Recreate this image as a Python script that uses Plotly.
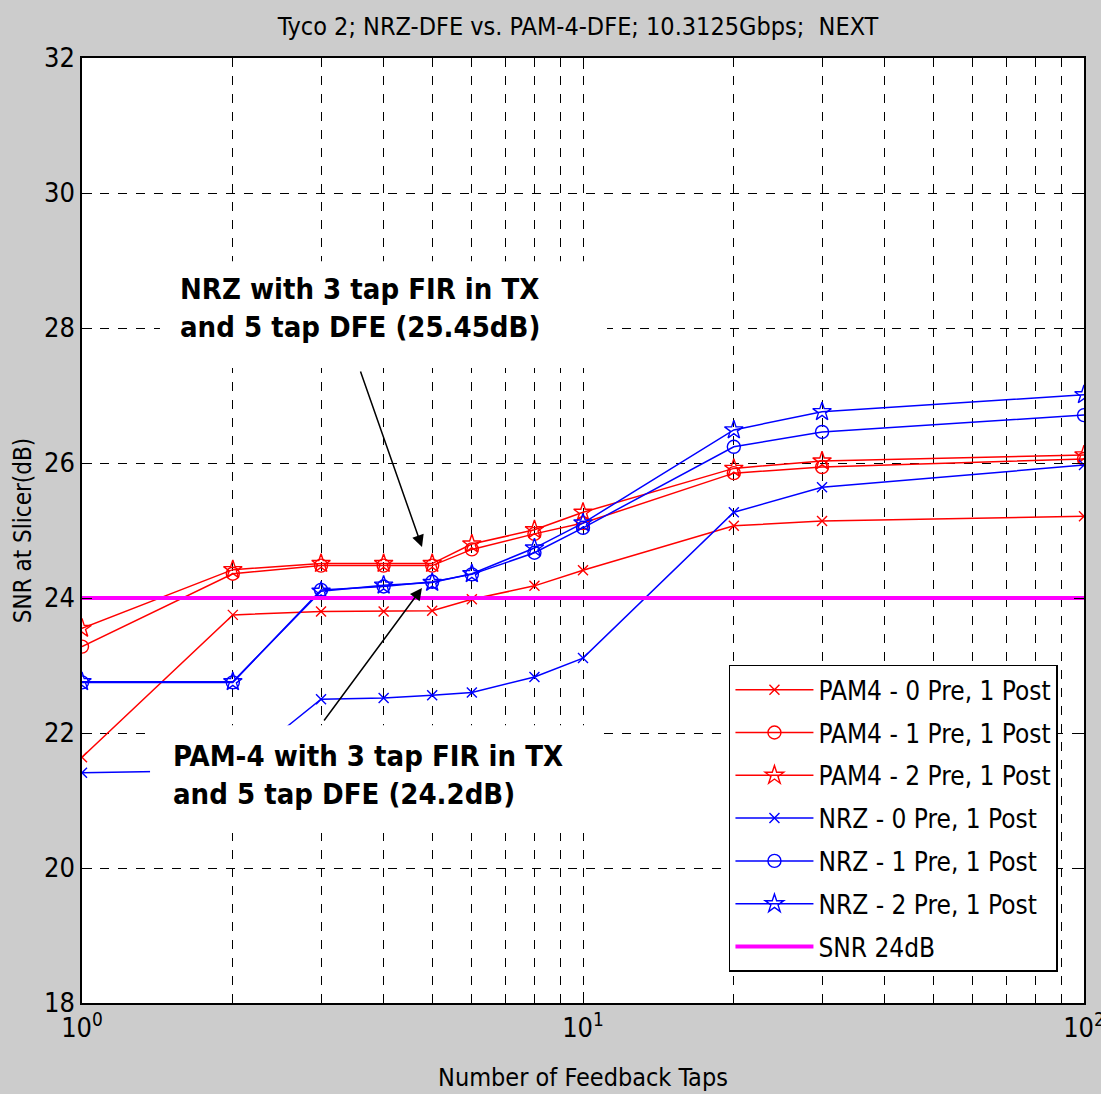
import plotly.graph_objects as go

taps = [1, 2, 3, 4, 5, 6, 8, 10, 20, 30, 100]

pam4_0pre = [21.64, 23.75, 23.80, 23.80, 23.81, 23.98, 24.18, 24.41, 25.07, 25.14, 25.21]
pam4_1pre = [23.28, 24.36, 24.48, 24.48, 24.48, 24.72, 24.95, 25.11, 25.85, 25.94, 26.06]
pam4_2pre = [23.55, 24.42, 24.51, 24.51, 24.51, 24.80, 25.01, 25.27, 25.92, 26.03, 26.12]
nrz_0pre = [21.41, 21.45, 22.50, 22.52, 22.56, 22.60, 22.83, 23.11, 25.27, 25.64, 25.97]
nrz_1pre = [22.75, 22.75, 24.12, 24.17, 24.24, 24.35, 24.67, 25.04, 26.24, 26.46, 26.71]
nrz_2pre = [22.76, 22.76, 24.10, 24.19, 24.23, 24.36, 24.74, 25.11, 26.49, 26.76, 27.01]
snr_line = [24, 24]
snr_x = [1, 100]

names = ["PAM4 - 0 Pre, 1 Post", "PAM4 - 1 Pre, 1 Post", "PAM4 - 2 Pre, 1 Post",
         "NRZ - 0 Pre, 1 Post", "NRZ - 1 Pre, 1 Post", "NRZ - 2 Pre, 1 Post", "SNR 24dB"]

title_text = "Tyco 2; NRZ-DFE vs. PAM-4-DFE; 10.3125Gbps;  NEXT"
xlabel = "Number of Feedback Taps"
ylabel = "SNR at Slicer(dB)"
note_nrz = "NRZ with 3 tap FIR in TX<br>and 5 tap DFE (25.45dB)"
note_pam = "PAM-4 with 3 tap FIR in TX<br>and 5 tap DFE (24.2dB)"

FONT = "DejaVu Sans Condensed, Liberation Sans Narrow, sans-serif"
RED = "#ff0000"
BLUE = "#0000ff"
MAG = "#ff00ff"

series = [
    (pam4_0pre, RED, "x-thin-open", 10),
    (pam4_1pre, RED, "circle-open", 13),
    (pam4_2pre, RED, "star-open", 14),
    (nrz_0pre, BLUE, "x-thin-open", 10),
    (nrz_1pre, BLUE, "circle-open", 13),
    (nrz_2pre, BLUE, "star-open", 14),
]

fig = go.Figure()
for i, (vals, col, sym, sz) in enumerate(series):
    fig.add_trace(go.Scatter(
        x=taps, y=vals, name=names[i], mode="lines+markers",
        legendgroup=f"g{i}",
        line=dict(color=col, width=1.5),
        marker=dict(symbol=sym, size=sz, color=col, line=dict(color=col, width=1.4)),
    ))
fig.add_trace(go.Scatter(
    x=snr_x, y=snr_line, name=names[6], mode="lines", legendgroup="g6",
    line=dict(color=MAG, width=4),
))

minor_vals = [2, 3, 4, 5, 6, 7, 8, 9, 20, 30, 40, 50, 60, 70, 80, 90]

fig.update_layout(
    width=1101, height=1094,
    paper_bgcolor="#cccccc", plot_bgcolor="white",
    margin=dict(l=82, r=17, t=58, b=91, autoexpand=False),
    font=dict(family=FONT, size=25, color="black"),
    title=dict(text=title_text, x=0.525, xanchor="center", y=0.976, yanchor="middle",
               font=dict(family=FONT, size=25)),
    showlegend=True,
    legend=dict(x=0.974, xanchor="right", y=0.033, yanchor="bottom",
                bgcolor="white", bordercolor="black", borderwidth=1.5,
                font=dict(family=FONT, size=26), tracegroupgap=6,
                itemwidth=78),
    xaxis=dict(
        type="log", range=[0, 2], automargin=False,
        tickmode="array", tickvals=[1, 10, 100],
        ticktext=["10<sup>0</sup>", "10<sup>1</sup>", "10<sup>2</sup>"],
        ticklabeloverflow="allow",
        ticks="inside", ticklen=11, tickcolor="black", tickwidth=1,
        showline=True, linecolor="black", linewidth=1.5, mirror="ticks",
        showgrid=True, gridcolor="black", griddash="dash", gridwidth=1,
        minor=dict(tickmode="array", tickvals=minor_vals, ticks="inside", ticklen=8,
                   tickcolor="black", showgrid=True, gridcolor="black",
                   griddash="dash", gridwidth=1),
        title=dict(text=xlabel, standoff=26, font=dict(family=FONT, size=25)),
        tickfont=dict(family=FONT, size=27),
        zeroline=False,
    ),
    yaxis=dict(
        range=[18, 32], automargin=False,
        tickmode="array", tickvals=[18, 20, 22, 24, 26, 28, 30, 32],
        ticks="inside", ticklen=10, tickcolor="black", tickwidth=1,
        showline=True, linecolor="black", linewidth=1.5, mirror="ticks",
        showgrid=True, gridcolor="black", griddash="dash", gridwidth=1,
        title=dict(text=ylabel, standoff=6, font=dict(family=FONT, size=24)),
        tickfont=dict(family=FONT, size=27),
        zeroline=False,
    ),
    shapes=[
        dict(type="rect", xref="paper", yref="paper", x0=0.0778, x1=0.524, y0=0.672, y1=0.785,
             fillcolor="white", line=dict(width=0), layer="above"),
        dict(type="rect", xref="paper", yref="paper", x0=0.0679, x1=0.517, y0=0.180, y1=0.294,
             fillcolor="white", line=dict(width=0), layer="above"),
    ],
    annotations=[
        dict(text=f"<b>{note_nrz}</b>", xref="paper", yref="paper", x=0.0958, y=0.776,
             xanchor="left", yanchor="top", align="left", showarrow=False,
             font=dict(family=FONT, size=29, color="black")),
        dict(text=f"<b>{note_pam}</b>", xref="paper", yref="paper", x=0.0888, y=0.282,
             xanchor="left", yanchor="top", align="left", showarrow=False,
             font=dict(family=FONT, size=29, color="black")),
        dict(text="", xref="paper", yref="paper", x=0.3393, y=0.4825,
             axref="pixel", ayref="pixel", ax=-62, ay=-177, showarrow=True,
             arrowhead=2, arrowsize=1.6, arrowwidth=1.5, arrowcolor="black", standoff=0),
        dict(text="", xref="paper", yref="paper", x=0.3393, y=0.4392,
             axref="pixel", ayref="pixel", ax=-99, ay=134, showarrow=True,
             arrowhead=2, arrowsize=1.6, arrowwidth=1.5, arrowcolor="black", standoff=0),
    ],
)

fig.write_html("out.html", config={"displayModeBar": False},
               post_script="document.body.style.margin='0';")
